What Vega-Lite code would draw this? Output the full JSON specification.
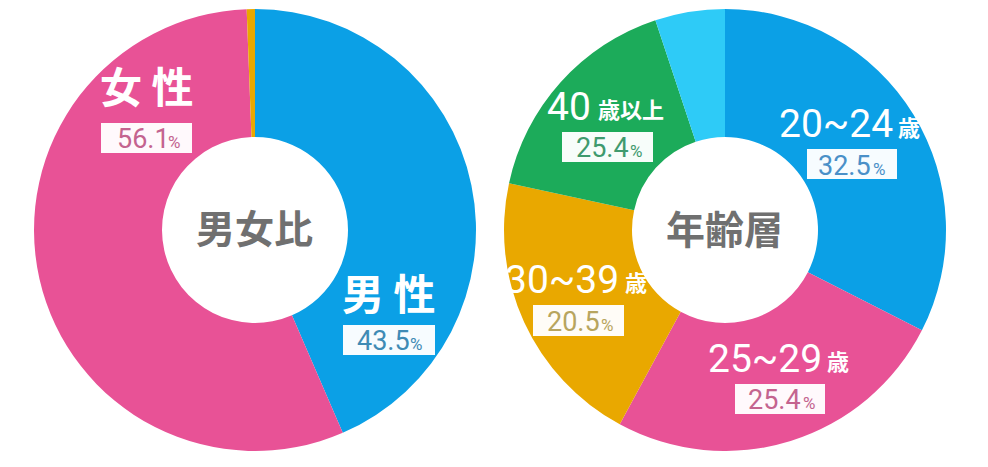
{"$schema":"https://vega.github.io/schema/vega-lite/v6.json","background":"#ffffff","padding":{"left":34,"top":9,"right":0,"bottom":0},"bounds":"flush","spacing":28,"config":{"view":{"stroke":null}},"datasets":{"segments":[{"chart":"男女比","segment":"男性","share":43.5,"rank":1},{"chart":"男女比","segment":"女性","share":55.9,"rank":2},{"chart":"男女比","segment":"その他","share":0.6,"rank":3},{"chart":"年齢層","segment":"20~24歳","share":32.5,"rank":1},{"chart":"年齢層","segment":"25~29歳","share":25.4,"rank":2},{"chart":"年齢層","segment":"30~39歳","share":20.5,"rank":3},{"chart":"年齢層","segment":"40歳以上","share":16.5,"rank":4},{"chart":"年齢層","segment":"その他","share":5.1,"rank":5}],"boxes":[{"chart":"男女比","a":-154,"b":-63,"c":-107,"d":-77},{"chart":"男女比","a":88,"b":180,"c":95,"d":125},{"chart":"年齢層","a":-163,"b":-72,"c":-98,"d":-68},{"chart":"年齢層","a":82,"b":172,"c":-81,"d":-51},{"chart":"年齢層","a":-192,"b":-101,"c":75,"d":106},{"chart":"年齢層","a":10,"b":100,"c":154,"d":184}],"words":[{"chart":"男女比","role":"title","text":"女 性","a":-155,"b":-127},{"chart":"男女比","role":"title","text":"男 性","a":87,"b":80},{"chart":"男女比","role":"center","text":"男女比","a":-59,"b":13},{"chart":"年齢層","role":"center","text":"年齢層","a":-59,"b":14},{"chart":"年齢層","role":"unit","text":"歳以上","a":-127,"b":-112},{"chart":"年齢層","role":"unit","text":"歳","a":173,"b":-94},{"chart":"年齢層","role":"unit","text":"歳","a":-100,"b":61},{"chart":"年齢層","role":"unit","text":"歳","a":102,"b":140}],"numbers":[{"chart":"男女比","segment":"女性","role":"pct","text":"56.1","a":-138,"b":-82},{"chart":"男女比","segment":"女性","role":"mark","text":"%","a":-87,"b":-82},{"chart":"男女比","segment":"男性","role":"pct","text":"43.5","a":102,"b":120},{"chart":"男女比","segment":"男性","role":"mark","text":"%","a":155,"b":120},{"chart":"年齢層","segment":"40歳以上","role":"big","text":"40","a":-178,"b":-110},{"chart":"年齢層","segment":"40歳以上","role":"pct","text":"25.4","a":-149,"b":-73},{"chart":"年齢層","segment":"40歳以上","role":"mark","text":"%","a":-95,"b":-73},{"chart":"年齢層","segment":"20~24歳","role":"big","text":"20~24","a":54,"b":-93},{"chart":"年齢層","segment":"20~24歳","role":"pct","text":"32.5","a":93,"b":-55},{"chart":"年齢層","segment":"20~24歳","role":"mark","text":"%","a":148,"b":-55},{"chart":"年齢層","segment":"30~39歳","role":"big","text":"30~39","a":-220,"b":63},{"chart":"年齢層","segment":"30~39歳","role":"pct","text":"20.5","a":-178,"b":101},{"chart":"年齢層","segment":"30~39歳","role":"mark","text":"%","a":-124,"b":101},{"chart":"年齢層","segment":"25~29歳","role":"big","text":"25~29","a":-17,"b":142},{"chart":"年齢層","segment":"25~29歳","role":"pct","text":"25.4","a":23,"b":179},{"chart":"年齢層","segment":"25~29歳","role":"mark","text":"%","a":78,"b":179}]},"hconcat":[{"width":442,"height":442,"resolve":{"scale":{"color":"independent"}},"layer":[{"data":{"name":"segments"},"transform":[{"filter":"datum.chart==='男女比'"}],"mark":{"type":"arc","outerRadius":221,"innerRadius":93},"encoding":{"theta":{"field":"share","type":"quantitative","stack":true,"scale":{"domain":[0,100]}},"order":{"field":"rank","type":"quantitative"},"color":{"field":"segment","type":"nominal","legend":null,"scale":{"domain":["男性","女性","その他"],"range":["#0ba0e6","#e85296","#e9a800"]}}}},{"data":{"name":"boxes"},"transform":[{"filter":"datum.chart==='男女比'"}],"mark":{"type":"rect","color":"#ffffff","opacity":0.97},"encoding":{"x":{"field":"a","type":"quantitative","axis":null,"scale":{"domain":[-221,221]}},"x2":{"field":"b"},"y":{"field":"c","type":"quantitative","axis":null,"scale":{"domain":[221,-221]}},"y2":{"field":"d"}}},{"data":{"name":"words"},"transform":[{"filter":"datum.chart==='男女比'"}],"mark":{"type":"text","font":"Noto Sans CJK JP","fontWeight":"bold","align":"left","baseline":"alphabetic"},"encoding":{"x":{"field":"a","type":"quantitative","axis":null,"scale":{"domain":[-221,221]}},"y":{"field":"b","type":"quantitative","axis":null,"scale":{"domain":[221,-221]}},"text":{"field":"text"},"size":{"field":"role","type":"nominal","legend":null,"scale":{"type":"ordinal","domain":["title","center","unit","big","pct","mark"],"range":[42,39,22,39,27,17]}},"color":{"field":"role","type":"nominal","legend":null,"scale":{"domain":["title","center","unit"],"range":["#ffffff","#707070","#ffffff"]}}}},{"data":{"name":"numbers"},"transform":[{"filter":"datum.chart==='男女比'"}],"mark":{"type":"text","font":"Roboto","align":"left","baseline":"alphabetic"},"encoding":{"x":{"field":"a","type":"quantitative","axis":null,"scale":{"domain":[-221,221]}},"y":{"field":"b","type":"quantitative","axis":null,"scale":{"domain":[221,-221]}},"text":{"field":"text"},"size":{"field":"role","type":"nominal","legend":null,"scale":{"type":"ordinal","domain":["title","center","unit","big","pct","mark"],"range":[42,39,22,39,27,17]}},"color":{"condition":{"test":"datum.role==='big'","value":"#ffffff"},"field":"segment","type":"nominal","legend":null,"scale":{"domain":["男性","女性"],"range":["#3f8bb5","#c4648f"]}}}}]},{"width":442,"height":442,"resolve":{"scale":{"color":"independent"}},"layer":[{"data":{"name":"segments"},"transform":[{"filter":"datum.chart==='年齢層'"}],"mark":{"type":"arc","outerRadius":221,"innerRadius":93},"encoding":{"theta":{"field":"share","type":"quantitative","stack":true,"scale":{"domain":[0,100]}},"order":{"field":"rank","type":"quantitative"},"color":{"field":"segment","type":"nominal","legend":null,"scale":{"domain":["20~24歳","25~29歳","30~39歳","40歳以上","その他"],"range":["#0ba0e6","#e85296","#e9a800","#1cab5a","#2ecbf7"]}}}},{"data":{"name":"boxes"},"transform":[{"filter":"datum.chart==='年齢層'"}],"mark":{"type":"rect","color":"#ffffff","opacity":0.97},"encoding":{"x":{"field":"a","type":"quantitative","axis":null,"scale":{"domain":[-221,221]}},"x2":{"field":"b"},"y":{"field":"c","type":"quantitative","axis":null,"scale":{"domain":[221,-221]}},"y2":{"field":"d"}}},{"data":{"name":"words"},"transform":[{"filter":"datum.chart==='年齢層'"}],"mark":{"type":"text","font":"Noto Sans CJK JP","fontWeight":"bold","align":"left","baseline":"alphabetic"},"encoding":{"x":{"field":"a","type":"quantitative","axis":null,"scale":{"domain":[-221,221]}},"y":{"field":"b","type":"quantitative","axis":null,"scale":{"domain":[221,-221]}},"text":{"field":"text"},"size":{"field":"role","type":"nominal","legend":null,"scale":{"type":"ordinal","domain":["title","center","unit","big","pct","mark"],"range":[42,39,22,39,27,17]}},"color":{"field":"role","type":"nominal","legend":null,"scale":{"domain":["title","center","unit"],"range":["#ffffff","#707070","#ffffff"]}}}},{"data":{"name":"numbers"},"transform":[{"filter":"datum.chart==='年齢層'"}],"mark":{"type":"text","font":"Roboto","align":"left","baseline":"alphabetic"},"encoding":{"x":{"field":"a","type":"quantitative","axis":null,"scale":{"domain":[-221,221]}},"y":{"field":"b","type":"quantitative","axis":null,"scale":{"domain":[221,-221]}},"text":{"field":"text"},"size":{"field":"role","type":"nominal","legend":null,"scale":{"type":"ordinal","domain":["title","center","unit","big","pct","mark"],"range":[42,39,22,39,27,17]}},"color":{"condition":{"test":"datum.role==='big'","value":"#ffffff"},"field":"segment","type":"nominal","legend":null,"scale":{"domain":["20~24歳","25~29歳","30~39歳","40歳以上"],"range":["#4a90c8","#c4648f","#b8a55e","#3f9a6e"]}}}}]}]}
